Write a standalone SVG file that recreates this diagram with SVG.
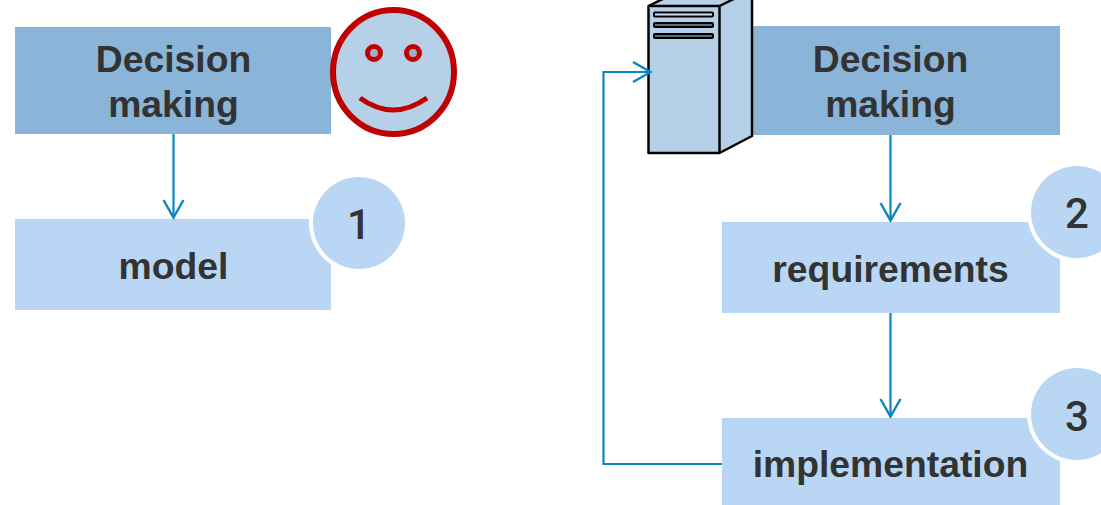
<svg xmlns="http://www.w3.org/2000/svg" width="1101" height="505" viewBox="0 0 1101 505">
<style>
.dark{fill:#8AB5D9}
.light{fill:#B9D6F4}
.t{font-family:"Liberation Sans",Arial,sans-serif;font-weight:700;font-size:37.300px;fill:#333;text-anchor:middle}
.n{font-family:Roboto,"Noto Sans",sans-serif;font-weight:500;font-size:42px;fill:#333;text-anchor:middle}
.halo{fill:#fff}
.c{fill:none;stroke:#0A87BF;stroke-width:2.2}
.sv{fill:#B5D0E7;stroke:#000;stroke-width:2.500;stroke-linejoin:round}
.slot{fill:#5A6B7A;stroke:#000;stroke-width:2}
</style>
<defs>
<marker id="arr" markerUnits="userSpaceOnUse" markerWidth="24" markerHeight="24" refX="20" refY="11" orient="auto">
<path d="M2 1L19.500 11L2 21" fill="none" stroke="#0A87BF" stroke-width="2.400"/>
</marker>
</defs>
<g id="decision-left">
<rect class="dark" x="15" y="27" width="316" height="107"/>
<text class="t" x="173.500" y="72">Decision</text>
<text class="t" x="173.500" y="117">making</text>
</g>
<g id="smiley">
<ellipse cx="393.500" cy="72" rx="60.500" ry="62" fill="#B5D0E7" stroke="#C00000" stroke-width="6"/>
<circle cx="374" cy="53" r="6.500" fill="#9AB0C4" stroke="#C00000" stroke-width="5"/>
<circle cx="413" cy="53" r="6.500" fill="#9AB0C4" stroke="#C00000" stroke-width="5"/>
<path d="M360 98Q393 122 427 98" fill="none" stroke="#C00000" stroke-width="5"/>
</g>
<g id="model">
<rect class="light" x="15" y="219" width="316" height="91"/>
<circle class="halo" cx="359" cy="223" r="50"/>
<circle class="light" cx="359" cy="223" r="46"/>
<text class="t" x="173.500" y="279">model</text>
<text class="n" x="359" y="239">1</text>
</g>
<g id="decision-right">
<rect class="dark" x="744" y="26" width="316" height="109"/>
<text class="t" x="890.500" y="72">Decision</text>
<text class="t" x="890.500" y="117">making</text>
</g>
<g id="server">
<path class="sv" d="M648.500 6L681-10H752V136L719.500 153H648.500Z"/>
<path class="sv" fill="none" d="M648.500 6H719.500V153M719.500 6L752-10"/>
<rect x="654" y="12.500" width="59" height="4" rx="1" fill="#D5E2EE" stroke="#000" stroke-width="2"/>
<rect class="slot" x="654" y="23" width="59" height="4" rx="1"/>
<rect class="slot" x="654" y="34" width="59" height="4" rx="1"/>
</g>
<g id="requirements">
<rect class="light" x="722" y="222" width="338" height="91"/>
<circle class="halo" cx="1077" cy="212" r="50"/>
<circle class="light" cx="1077" cy="212" r="46"/>
<text class="t" x="890.500" y="282">requirements</text>
<text class="n" x="1077" y="228">2</text>
</g>
<g id="implementation">
<rect class="light" x="722" y="418" width="338" height="87"/>
<circle class="halo" cx="1077" cy="414" r="50"/>
<circle class="light" cx="1077" cy="414" r="46"/>
<text class="t" x="890.500" y="477">implementation</text>
<text class="n" x="1077" y="430.500">3</text>
</g>
<g id="connectors">
<path class="c" marker-end="url(#arr)" d="M173.500 134V218"/>
<path class="c" marker-end="url(#arr)" d="M890.500 135V221"/>
<path class="c" marker-end="url(#arr)" d="M890.500 313V417"/>
<path class="c" marker-end="url(#arr)" d="M722 464H603.500V72H651"/>
</g>
</svg>
